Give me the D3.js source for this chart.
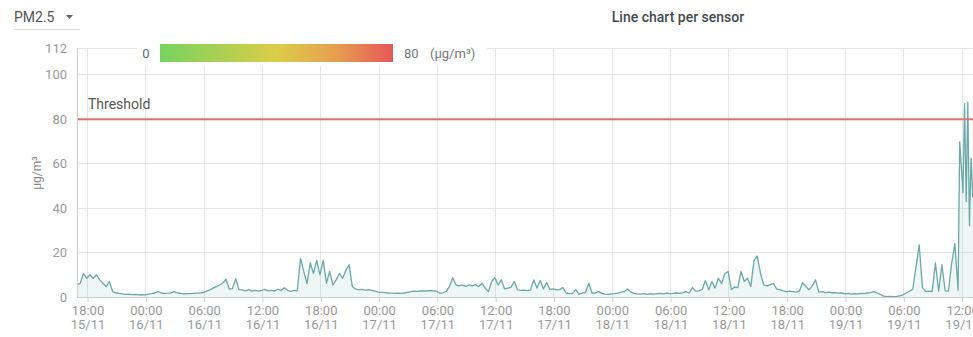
<!DOCTYPE html>
<html>
<head>
<meta charset="utf-8">
<script src="https://cdn.jsdelivr.net/npm/d3@7"></script>
<style>
  html, body { margin: 0; padding: 0; background: #fff; overflow: hidden; }
  svg { display: block; font-family: Roboto, "Noto Sans", sans-serif; }
</style>
</head>
<body>
<svg id="chart" width="973" height="337"></svg>
<script>
// PM2.5 readings, one every 20 minutes from the series start
const seriesStart = "2023-11-15T16:55";
const stepMinutes = 20;
const pm25 = [
  5.4, 6.2, 10.6, 8.4, 10, 8.4, 10, 7.7, 6.2, 4.7,
  7, 2.4, 1.8, 1.6, 1.4, 1.2, 1.3, 1.1, 1.2, 1.0,
  1.1, 1.0, 1.3, 1.5, 1.8, 2.4, 1.8, 1.6, 1.7, 1.9,
  2.4, 1.8, 1.6, 1.4, 1.5, 1.5, 1.6, 1.7, 1.8, 2.0,
  2.6, 3.2, 4.0, 4.7, 5.4, 6.2, 8, 3.6, 3.8, 8.2,
  3.3, 3.2, 2.8, 3.3, 2.6, 3.0, 2.6, 3.0, 3.4, 2.8,
  3.0, 2.7, 3.5, 2.9, 4.2, 3.0, 2.5, 3.0, 2.8, 17.4,
  11.5, 6, 15.3, 10.6, 16.5, 10, 16.5, 6.2, 11.5, 5.4,
  7.7, 10.6, 8.4, 12, 14.5, 4.7, 3.5, 3.3, 3.4, 3.1,
  3.3, 3.0, 2.6, 2.2, 2.1, 2.0, 1.8, 1.7, 1.6, 1.7,
  1.6, 1.8, 2.1, 2.4, 2.6, 2.5, 2.7, 2.8, 2.7, 2.9,
  2.8, 2.6, 1.7, 1.9, 2.6, 4.7, 8.7, 5.4, 5.0, 5.4,
  4.8, 5.4, 5.0, 5.6, 4.7, 6.2, 4.0, 2.4, 7, 8.7,
  5.4, 7.7, 3.6, 4.0, 4.4, 7, 3.2, 3.0, 3.1, 2.9,
  3.2, 7.7, 4.0, 7.4, 3.6, 6.5, 3.4, 3.6, 3.2, 3.3,
  4.2, 1.8, 1.5, 1.6, 3.3, 1.2, 1.8, 2.0, 6.2, 1.7,
  1.8, 2.4, 1.6, 1.3, 1.2, 1.4, 1.5, 1.7, 2.2, 2.5,
  3.6, 2.2, 1.6, 1.4, 1.3, 1.5, 1.2, 1.4, 1.3, 1.5,
  1.6, 1.4, 1.7, 1.5, 1.6, 1.8, 1.6, 1.9, 2.4, 1.8,
  4.2, 2.6, 2.8, 3.4, 7.4, 3.2, 7, 4, 8.4, 6,
  10.6, 11.5, 3.3, 4.5, 4.2, 11.5, 7, 8.4, 4.7, 16.5,
  18.4, 10.6, 5.4, 5.0, 5.6, 6.0, 3.6, 3.3, 2.8, 2.4,
  2.6, 2.4, 2.2, 2.6, 6.5, 4.7, 3.3, 5.0, 7.7, 2.2,
  2.4, 2.0, 2.2, 1.8, 2.0, 1.7, 1.8, 1.5, 1.6, 1.3,
  1.5, 1.4, 1.6, 1.5, 1.8, 2.0, 2.4, 1.8, 1.2, 0.4,
  0.2, 0.3, 0.2, 0.3, 0.5, 1.0, 1.8, 2.6, 3.5, 13.6,
  23.4, 4.2, 2.4, 2.6, 2.4, 15.3, 2.6, 14.5, 2.8, 2.6,
  15, 24, 3
];

// Faster 10-minute readings during the late-morning episode
const burstStart = "2023-11-19T11:45";
const burstStepMinutes = 10;
const pm25Burst = [69.8, 58.6, 47, 87, 43, 87.6, 32, 62.5, 45, 55];

const domainStart = "2023-11-15T16:55";
const domainEnd = "2023-11-19T13:07";
const yTicks = [0, 20, 40, 60, 80, 100, 112];
const yMax = 112;
const thresholdValue = 80;
const thresholdLabel = "Threshold";
const legendMin = 0;
const legendMax = 80;
const legendUnit = "(µg/m³)";
const yAxisTitle = "µg/m³";
const pollutant = "PM2.5";
const chartTitle = "Line chart per sensor";

// Build the time series
const t0 = new Date(seriesStart);
const tb = new Date(burstStart);
const data = pm25.map((v, i) => ({ t: d3.timeMinute.offset(t0, i * stepMinutes), v }))
  .concat(pm25Burst.map((v, i) => ({ t: d3.timeMinute.offset(tb, i * burstStepMinutes), v })));

const svg = d3.select("#chart");
const plotLeft = 77, plotRight = 973, plotTop = 48, plotBottom = 297;

const x = d3.scaleTime()
  .domain([new Date(domainStart), new Date(domainEnd)])
  .range([plotLeft, plotRight]);
const y = d3.scaleLinear().domain([0, yMax]).range([plotBottom, plotTop]);

const gridColor = "#e6e6e6";
const tickColor = "#9a9a9a";

// Horizontal grid
svg.append("g").selectAll("line").data(yTicks).join("line")
  .attr("x1", plotLeft).attr("x2", plotRight)
  .attr("y1", d => y(d)).attr("y2", d => y(d))
  .attr("stroke", gridColor).attr("stroke-width", 1)
  .attr("shape-rendering", "crispEdges");

// Vertical grid every 6 hours
const xTicks = x.ticks(d3.timeHour.every(6));
svg.append("g").selectAll("line").data(xTicks).join("line")
  .attr("x1", d => x(d)).attr("x2", d => x(d))
  .attr("y1", plotTop).attr("y2", plotBottom)
  .attr("stroke", gridColor).attr("stroke-width", 1)
  .attr("shape-rendering", "crispEdges");

// Clip for the data marks
svg.append("clipPath").attr("id", "plotClip")
  .append("rect").attr("x", plotLeft).attr("y", plotTop - 10)
  .attr("width", plotRight - plotLeft).attr("height", plotBottom - plotTop + 10);

const plot = svg.append("g").attr("clip-path", "url(#plotClip)");

const area = d3.area().x(d => x(d.t)).y0(y(0)).y1(d => y(d.v));
const line = d3.line().x(d => x(d.t)).y(d => y(d.v));

plot.append("path").datum(data)
  .attr("d", area)
  .attr("fill", "#5fa3a3").attr("fill-opacity", 0.1);

plot.append("path").datum(data)
  .attr("d", line)
  .attr("fill", "none")
  .attr("stroke", "#6aa9a8")
  .attr("stroke-width", 1.3)
  .attr("stroke-linejoin", "round");

// Threshold
svg.append("line")
  .attr("x1", plotLeft).attr("x2", plotRight)
  .attr("y1", y(thresholdValue)).attr("y2", y(thresholdValue))
  .attr("stroke", "#e07070").attr("stroke-width", 2);
svg.append("text")
  .attr("x", 88).attr("y", y(thresholdValue) - 10)
  .attr("font-size", 14).attr("fill", "#555")
  .text(thresholdLabel);

// Axis lines
svg.append("line").attr("x1", plotLeft).attr("x2", plotLeft).attr("y1", plotTop).attr("y2", plotBottom)
  .attr("stroke", "#cfcfcf").attr("shape-rendering", "crispEdges");
svg.append("line").attr("x1", plotLeft).attr("x2", plotRight).attr("y1", plotBottom).attr("y2", plotBottom)
  .attr("stroke", "#cfcfcf").attr("shape-rendering", "crispEdges");

// Y axis labels
const yAxis = d3.axisLeft(y).tickValues(yTicks).tickSize(0).tickPadding(10);
const gy = svg.append("g").attr("transform", `translate(${plotLeft},0)`).call(yAxis);
gy.select(".domain").remove();
gy.selectAll("text").attr("font-size", 13).attr("fill", tickColor)
  .attr("font-family", "Roboto, sans-serif");

// X axis: time on first line, date on second
const xAxis = d3.axisBottom(x).tickValues(xTicks).tickSize(5).tickFormat("");
const gx = svg.append("g").attr("transform", `translate(0,${plotBottom})`).call(xAxis);
gx.select(".domain").remove();
gx.selectAll(".tick line").attr("stroke", "#cfcfcf");
const fmtTime = d3.timeFormat("%H:%M");
const fmtDate = d3.timeFormat("%d/%m");
const xl = gx.selectAll(".tick").append("text")
  .attr("text-anchor", "middle").attr("font-size", 13).attr("fill", tickColor)
  .attr("font-family", "Roboto, sans-serif");
xl.append("tspan").attr("x", 0).attr("y", 18).text(d => fmtTime(d));
xl.append("tspan").attr("x", 0).attr("y", 32).text(d => fmtDate(d));

// Y axis title
svg.append("text")
  .attr("transform", `translate(41,173) rotate(-90)`)
  .attr("text-anchor", "middle").attr("font-size", 12).attr("fill", "#8a8a8a")
  .text(yAxisTitle);

// Colour legend
const legend = svg.append("g");
legend.append("rect").attr("x", 137).attr("y", 40).attr("width", 350).attr("height", 26).attr("fill", "#fff");
const grad = svg.append("defs").append("linearGradient").attr("id", "pmGrad")
  .attr("x1", "0%").attr("x2", "100%").attr("y1", "0%").attr("y2", "0%");
[["0%", "#76d35f"], ["50%", "#dccd48"], ["75%", "#e6a050"], ["100%", "#e65757"]]
  .forEach(([o, c]) => grad.append("stop").attr("offset", o).attr("stop-color", c));
legend.append("rect").attr("x", 160).attr("y", 44).attr("width", 233).attr("height", 18)
  .attr("fill", "url(#pmGrad)");
legend.append("text").attr("x", 146).attr("y", 58).attr("text-anchor", "middle")
  .attr("font-size", 13).attr("fill", "#5d6b7a").text(legendMin);
legend.append("text").attr("x", 404).attr("y", 58)
  .attr("font-size", 13).attr("fill", "#777").text(legendMax);
legend.append("text").attr("x", 430).attr("y", 58)
  .attr("font-size", 13).attr("fill", "#777").text(legendUnit);

// Pollutant selector
svg.append("text").attr("x", 14).attr("y", 22).attr("font-size", 14).attr("fill", "#555").text(pollutant);
svg.append("path").attr("d", "M66,15 L73,15 L69.5,19 Z").attr("fill", "#666");
svg.append("line").attr("x1", 14).attr("x2", 80).attr("y1", 29.5).attr("y2", 29.5)
  .attr("stroke", "#d8d8d8");

// Title
svg.append("text").attr("x", 678).attr("y", 22).attr("text-anchor", "middle")
  .attr("font-size", 14).attr("font-weight", 500).attr("fill", "#454a50").text(chartTitle);
</script>
</body>
</html>
